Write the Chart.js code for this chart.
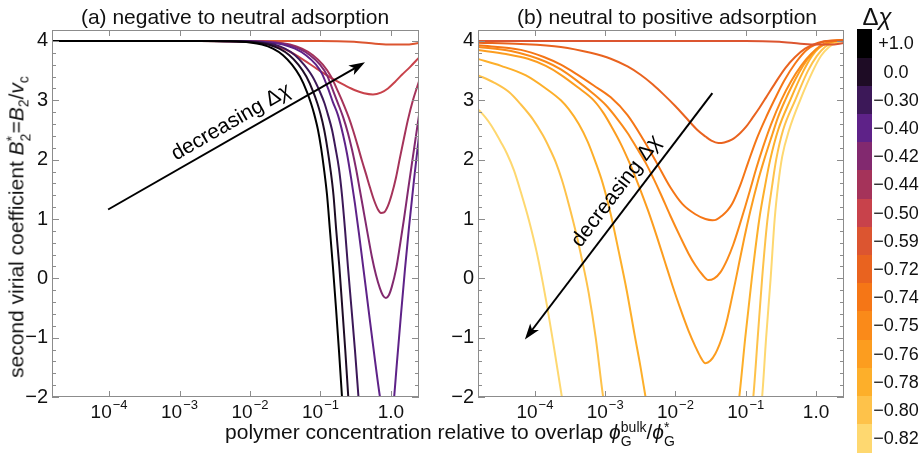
<!DOCTYPE html>
<html>
<head>
<meta charset="utf-8">
<script src="https://cdn.jsdelivr.net/npm/chart.js@4"></script>
<style>
  body { margin: 0; background: #fff; font-family: "Liberation Sans", Arial, sans-serif; color: #111; }
  #wrap { position: relative; width: 919px; height: 455px; overflow: hidden; }
  .panel { position: absolute; top: 0; width: 430px; height: 455px; }
  .t { position: absolute; white-space: nowrap; font-size: 21px; line-height: 24px; transform: translate(-50%, -50%); }
  .st { display: inline-flex; flex-direction: column; font-size: 14px; line-height: 14px; vertical-align: 7px; font-style: normal; }
  .cell { position: absolute; left: 857px; width: 15px; }
  .lab { position: absolute; font-size: 18px; line-height: 20px; transform: translate(-50%, -50%); white-space: nowrap; }
</style>
</head>
<body>
<div id="wrap">
  <div class="panel" style="left:0"><canvas id="chartA" width="430" height="455"></canvas></div>
  <div class="panel" style="left:425px"><canvas id="chartB" width="430" height="455"></canvas></div>

  <div class="t" style="left:235px;top:17px">(a) negative to neutral adsorption</div>
  <div class="t" style="left:667px;top:17px">(b) neutral to positive adsorption</div>
  <div class="t" style="left:450px;top:434px">polymer concentration relative to overlap <i>ϕ</i><span class="st"><span>bulk</span><span>G</span></span>/<i>ϕ</i><span class="st"><span>*</span><span>G</span></span></div>
  <div class="t" style="left:20px;top:227px;transform:translate(-50%,-50%) rotate(-90deg)">second virial coefficient <i>B</i><span class="st"><span>*</span><span>2</span></span>=<i>B</i><sub style="font-size:14px">2</sub>/<i>v</i><sub style="font-size:14px">c</sub></div>
  <div class="t" style="left:877px;top:17px;font-size:24px">Δ<i>χ</i></div>
</div>

<script>
// axis ticks
const xTicks = [1e-4, 1e-3, 1e-2, 1e-1, 1];
const xTickBase = ['10', '10', '10', '10', '1.0'];
const xTickExp = ['−4', '−3', '−2', '−1', ''];
const yTicks = [-2, -1, 0, 1, 2, 3, 4];

// colour bar
const chiLabels = ['+1.0', '0.0', '−0.30', '−0.40', '−0.42', '−0.44', '−0.50', '−0.59',
                   '−0.72', '−0.74', '−0.75', '−0.76', '−0.78', '−0.80', '−0.82'];
const chiColors = ['#000000', '#1e0c25', '#3c1858', '#5e2288', '#82296f', '#a5335a', '#c8424b', '#dc5530',
                   '#e9631f', '#f57616', '#fa8a19', '#fc9d1f', '#fdaf2a', '#fec24a', '#fed870'];

// curves [phi/phi*, B2*]
const chiP100 = [[1.5e-5, 4], [1.95e-3, 4.0], [5.2e-3, 3.995], [0.0100, 3.975], [0.0148, 3.94], [0.0212, 3.87], [0.0294, 3.76], [0.0394, 3.6], [0.0512, 3.4], [0.0644, 3.14], [0.0733, 2.95], [0.0809, 2.78], [0.0922, 2.5], [0.102, 2.2], [0.112, 1.85], [0.124, 1.4], [0.136, 0.82], [0.150, 0.2], [0.166, -0.5], [0.183, -1.22], [0.202, -2.0], [0.223, -2.8]];
const chi000 = [[1.5e-5, 4], [2.40e-3, 4.0], [6.40e-3, 3.995], [0.0123, 3.975], [0.0182, 3.94], [0.0261, 3.87], [0.0362, 3.76], [0.0485, 3.6], [0.0630, 3.4], [0.0792, 3.14], [0.0902, 2.95], [0.0995, 2.78], [0.113, 2.5], [0.125, 2.2], [0.138, 1.85], [0.153, 1.4], [0.167, 0.82], [0.185, 0.2], [0.204, -0.5], [0.225, -1.22], [0.248, -2.0], [0.274, -2.8]];
const chiM030 = [[1.5e-5, 4], [2.89e-3, 4.0], [7.70e-3, 3.995], [0.0148, 3.975], [0.0219, 3.94], [0.0313, 3.87], [0.0435, 3.76], [0.0583, 3.6], [0.0770, 3.4], [0.0984, 3.14], [0.114, 2.95], [0.126, 2.78], [0.146, 2.5], [0.163, 2.2], [0.183, 1.85], [0.202, 1.4], [0.223, 0.82], [0.245, 0.2], [0.275, -0.5], [0.309, -1.22], [0.346, -2.0], [0.388, -2.8]];
const chiM040 = [[1.5e-5, 4], [2.89e-3, 4.0], [9.37e-3, 3.995], [0.0192, 3.975], [0.0294, 3.94], [0.0435, 3.87], [0.0622, 3.76], [0.0863, 3.6], [0.105, 3.45], [0.128, 3.2], [0.150, 2.97], [0.177, 2.75], [0.209, 2.42], [0.238, 2.1], [0.271, 1.7], [0.309, 1.25], [0.352, 0.75], [0.401, 0.22], [0.472, -0.45], [0.574, -1.25], [0.698, -2.0], [0.822, -2.5], [0.937, -2.6], [1.07, -2.2], [1.22, -1.4], [1.39, -0.6], [1.58, 0.15], [1.80, 0.85], [2.12, 1.65], [2.5, 2.4]];
const chiM042 = [[1.5e-5, 4], [3.19e-3, 4.0], [0.0107, 3.995], [0.0219, 3.975], [0.0335, 3.94], [0.0495, 3.87], [0.0710, 3.76], [0.0984, 3.6], [0.124, 3.42], [0.150, 3.17], [0.177, 2.95], [0.209, 2.72], [0.245, 2.45], [0.280, 2.17], [0.319, 1.85], [0.363, 1.48], [0.414, 1.1], [0.472, 0.72], [0.537, 0.36], [0.612, 0.06], [0.698, -0.17], [0.770, -0.29], [0.849, -0.33], [0.937, -0.28], [1.03, -0.14], [1.18, 0.15], [1.34, 0.55], [1.53, 1.0], [1.74, 1.47], [2.05, 2.05], [2.5, 2.75]];
const chiM044 = [[1.5e-5, 4], [3.52e-3, 4.0], [0.0118, 3.995], [0.0242, 3.975], [0.0369, 3.94], [0.0547, 3.87], [0.0783, 3.76], [0.108, 3.6], [0.141, 3.4], [0.177, 3.15], [0.215, 2.92], [0.254, 2.7], [0.289, 2.5], [0.340, 2.22], [0.388, 1.98], [0.442, 1.76], [0.504, 1.53], [0.574, 1.32], [0.654, 1.16], [0.721, 1.10], [0.796, 1.11], [0.906, 1.22], [1.03, 1.42], [1.18, 1.7], [1.34, 2.03], [1.53, 2.36], [1.74, 2.67], [2.05, 3.0], [2.5, 3.32]];
const chiM050 = [[1.5e-5, 4], [1.95e-3, 4.0], [6.12e-3, 3.99], [0.0148, 3.96], [0.0313, 3.86], [0.0512, 3.72], [0.0892, 3.53], [0.150, 3.36], [0.223, 3.25], [0.309, 3.17], [0.414, 3.12], [0.556, 3.10], [0.721, 3.13], [0.906, 3.2], [1.14, 3.31], [1.43, 3.43], [1.86, 3.56], [2.5, 3.72]];
const chiM059 = [[1.5e-5, 4], [0.1, 4.0], [0.3, 3.985], [0.6, 3.955], [1.0, 3.94], [1.6, 3.94], [2.5, 3.965]];
const chiM072 = [[1.5e-5, 3.97], [6.32e-5, 3.95], [2.34e-4, 3.9], [6.22e-4, 3.8], [1.20e-3, 3.7], [2.08e-3, 3.57], [3.19e-3, 3.43], [4.72e-3, 3.27], [6.76e-3, 3.1], [0.0100, 2.9], [0.0148, 2.68], [0.0205, 2.5], [0.0267, 2.39], [0.0324, 2.32], [0.0407, 2.28], [0.0495, 2.29], [0.0644, 2.34], [0.0836, 2.45], [0.102, 2.56], [0.124, 2.7], [0.156, 2.87], [0.195, 3.05], [0.262, 3.29], [0.363, 3.54], [0.504, 3.73], [0.698, 3.87], [0.968, 3.95], [1.39, 4.0], [2.5, 4.01]];
const chiM074 = [[1.5e-5, 3.93], [6.32e-5, 3.85], [1.34e-4, 3.73], [2.34e-4, 3.6], [3.82e-4, 3.45], [6.87e-4, 3.25], [1.20e-3, 3.05], [2.08e-3, 2.75], [3.52e-3, 2.33], [5.38e-3, 1.95], [8.49e-3, 1.53], [0.0126, 1.25], [0.0192, 1.08], [0.0267, 1.0], [0.0335, 0.98], [0.0382, 0.99], [0.0464, 1.06], [0.0547, 1.14], [0.0644, 1.26], [0.0836, 1.57], [0.108, 1.95], [0.141, 2.33], [0.189, 2.68], [0.254, 3.0], [0.352, 3.33], [0.504, 3.62], [0.721, 3.84], [1.03, 3.95], [1.48, 4.0], [2.5, 4.015]];
const chiM075 = [[1.5e-5, 3.90], [4.57e-5, 3.83], [1.43e-4, 3.65], [2.34e-4, 3.52], [4.07e-4, 3.32], [6.65e-4, 3.12], [1.02e-3, 2.92], [1.50e-3, 2.68], [2.08e-3, 2.45], [2.80e-3, 2.2], [3.75e-3, 1.95], [4.88e-3, 1.68], [6.12e-3, 1.43], [8.49e-3, 1.05], [0.0118, 0.69], [0.0153, 0.42], [0.0192, 0.22], [0.0242, 0.06], [0.0294, -0.03], [0.0357, 0.0], [0.0435, 0.1], [0.0547, 0.32], [0.0665, 0.57], [0.0809, 0.88], [0.0984, 1.21], [0.116, 1.5], [0.141, 1.85], [0.177, 2.22], [0.230, 2.6], [0.319, 3.0], [0.442, 3.32], [0.612, 3.58], [0.849, 3.78], [1.18, 3.92], [1.69, 3.99], [2.5, 4.02]];
const chiM076 = [[1.5e-5, 3.85], [3.88e-5, 3.78], [7.96e-5, 3.7], [1.43e-4, 3.58], [2.34e-4, 3.43], [4.07e-4, 3.22], [6.87e-4, 3.0], [9.53e-4, 2.78], [1.28e-3, 2.52], [1.66e-3, 2.27], [2.08e-3, 2.02], [2.62e-3, 1.74], [3.19e-3, 1.48], [4.14e-3, 1.12], [5.38e-3, 0.72], [6.98e-3, 0.3], [9.06e-3, -0.12], [0.0118, -0.52], [0.0153, -0.88], [0.0192, -1.15], [0.0226, -1.32], [0.0267, -1.43], [0.0313, -1.39], [0.0369, -1.27], [0.0421, -1.12], [0.0480, -0.93], [0.0547, -0.68], [0.0622, -0.38], [0.0710, -0.06], [0.0809, 0.27], [0.0953, 0.68], [0.116, 1.13], [0.146, 1.6], [0.183, 2.0], [0.238, 2.42], [0.289, 2.72], [0.363, 3.0], [0.457, 3.25], [0.574, 3.47], [0.745, 3.68], [0.968, 3.84], [1.22, 3.93], [1.58, 3.98], [2.5, 4.02]];
const chiM078 = [[1.5e-5, 3.70], [3.30e-5, 3.58], [7.45e-5, 3.42], [1.43e-4, 3.2], [2.34e-4, 3.0], [3.03e-4, 2.85], [4.21e-4, 2.6], [5.65e-4, 2.3], [7.33e-4, 1.95], [9.23e-4, 1.6], [1.20e-3, 1.08], [1.56e-3, 0.45], [2.02e-3, -0.2], [2.62e-3, -0.95], [3.19e-3, -1.5], [3.75e-3, -2.0], [4.72e-3, -2.7], [6.12e-3, -3.5], [0.0226, -8], [0.0512, -3.8], [0.0644, -2.9], [0.0809, -2.0], [0.0984, -1.0], [0.122, 0.0], [0.156, 1.0], [0.189, 1.57], [0.223, 2.0], [0.289, 2.5], [0.428, 3.0], [0.665, 3.5], [0.878, 3.75], [1.10, 3.88], [1.39, 3.96], [1.74, 4.0], [2.5, 4.02]];
const chiM080 = [[1.5e-5, 3.43], [2.62e-5, 3.3], [4.28e-5, 3.14], [6.32e-5, 2.93], [9.38e-5, 2.68], [1.30e-4, 2.41], [1.63e-4, 2.18], [1.99e-4, 1.95], [2.42e-4, 1.66], [3.03e-4, 1.25], [3.82e-4, 0.78], [4.80e-4, 0.25], [5.83e-4, -0.25], [7.33e-4, -1.0], [9.23e-4, -1.95], [1.12e-3, -2.6], [1.41e-3, -3.3], [0.0118, -10], [0.0836, -3.6], [0.105, -2.8], [0.128, -2.0], [0.148, -1.0], [0.171, 0.0], [0.202, 0.95], [0.238, 1.57], [0.271, 2.0], [0.340, 2.5], [0.504, 3.0], [0.770, 3.5], [1.03, 3.75], [1.34, 3.9], [1.74, 3.97], [2.19, 4.0], [2.5, 4.02]];
const chiM082 = [[1.5e-5, 2.87], [1.95e-5, 2.72], [2.38e-5, 2.58], [2.80e-5, 2.44], [3.30e-5, 2.29], [4.01e-5, 2.1], [5.04e-5, 1.82], [6.32e-5, 1.45], [8.22e-5, 0.98], [1.07e-4, 0.42], [1.43e-4, -0.35], [1.86e-4, -1.15], [2.42e-4, -2.0], [3.03e-4, -2.75], [3.82e-4, -3.5], [6.12e-3, -14], [0.116, -3.8], [0.141, -2.9], [0.171, -2.0], [0.195, -1.0], [0.226, 0.0], [0.258, 1.0], [0.289, 1.57], [0.330, 2.05], [0.414, 2.5], [0.593, 3.0], [0.906, 3.5], [1.18, 3.75], [1.53, 3.9], [1.92, 3.97], [2.34, 4.0], [2.5, 4.01]];

// "decreasing" arrows: [tail, head] in data units
const arrowA = [[9.7e-5, 1.16], [0.428, 3.64]];
const arrowB = [[0.0335, 3.12], [7.2e-5, -1.03]];

const panelA = [chiP100, chi000, chiM030, chiM040, chiM042, chiM044, chiM050, chiM059];
const panelB = [chiM059, chiM072, chiM074, chiM075, chiM076, chiM078, chiM080, chiM082];

const FONT = '"Liberation Sans", Arial, sans-serif';
Chart.defaults.font.family = FONT;

const decoPlugin = {
    id: 'deco',
    afterDatasetsDraw(chart, args, opts) {
        const { ctx, chartArea: a } = chart;
        const xs = chart.scales.x, ys = chart.scales.y;
        ctx.save();

        // frame with inward ticks
        ctx.strokeStyle = '#8c8c8c';
        ctx.lineWidth = 1;
        ctx.strokeRect(a.left + 0.5, a.top + 0.5, a.right - a.left - 1, a.bottom - a.top - 1);
        ctx.beginPath();
        for (let i = 0; i <= 31; i++) {
            const v = -2 + i * 0.2;
            if (v > ys.max) break;
            const py = Math.round(ys.getPixelForValue(v)) + 0.5;
            const len = i % 5 === 0 ? 7 : 4;
            ctx.moveTo(a.left, py); ctx.lineTo(a.left + len, py);
            ctx.moveTo(a.right, py); ctx.lineTo(a.right - len, py);
        }
        xTicks.forEach(v => {
            const px = Math.round(xs.getPixelForValue(v)) + 0.5;
            ctx.moveTo(px, a.bottom); ctx.lineTo(px, a.bottom - 6);
            ctx.moveTo(px, a.top); ctx.lineTo(px, a.top + 6);
        });
        ctx.stroke();

        // x tick labels with exponents
        ctx.fillStyle = '#111';
        ctx.textAlign = 'left';
        ctx.textBaseline = 'alphabetic';
        xTicks.forEach((v, i) => {
            const px = xs.getPixelForValue(v);
            ctx.font = '19px ' + FONT;
            const wb = ctx.measureText(xTickBase[i]).width;
            ctx.font = '13px ' + FONT;
            const we = xTickExp[i] ? ctx.measureText(xTickExp[i]).width + 1 : 0;
            const x0 = px - (wb + we) / 2;
            ctx.font = '19px ' + FONT;
            ctx.fillText(xTickBase[i], x0, a.bottom + 21);
            if (xTickExp[i]) {
                ctx.font = '13px ' + FONT;
                ctx.fillText(xTickExp[i], x0 + wb + 1, a.bottom + 12);
            }
        });

        // arrow
        const arr = opts.arrow;
        const x0 = xs.getPixelForValue(arr[0][0]), y0 = ys.getPixelForValue(arr[0][1]);
        const x1 = xs.getPixelForValue(arr[1][0]), y1 = ys.getPixelForValue(arr[1][1]);
        const len = Math.hypot(x1 - x0, y1 - y0);
        const ux = (x1 - x0) / len, uy = (y1 - y0) / len;
        ctx.strokeStyle = '#000';
        ctx.fillStyle = '#000';
        ctx.lineWidth = 2;
        ctx.beginPath();
        ctx.moveTo(x0, y0);
        ctx.lineTo(x1 - 10 * ux, y1 - 10 * uy);
        ctx.stroke();
        ctx.beginPath();
        ctx.moveTo(x1, y1);
        ctx.lineTo(x1 - 16 * ux - 5.5 * uy, y1 - 16 * uy + 5.5 * ux);
        ctx.lineTo(x1 - 12 * ux, y1 - 12 * uy);
        ctx.lineTo(x1 - 16 * ux + 5.5 * uy, y1 - 16 * uy - 5.5 * ux);
        ctx.closePath();
        ctx.fill();

        // label along the arrow
        const rx = ux >= 0 ? ux : -ux, ry = ux >= 0 ? uy : -uy;
        const cx = x0 + opts.t * (x1 - x0) + opts.off * ry;
        const cy = y0 + opts.t * (y1 - y0) - opts.off * rx;
        ctx.translate(cx, cy);
        ctx.rotate(Math.atan2(ry, rx));
        ctx.textBaseline = 'middle';
        ctx.font = '21px ' + FONT;
        const w1 = ctx.measureText('decreasing Δ').width;
        ctx.font = 'italic 21px ' + FONT;
        const w2 = ctx.measureText('χ').width;
        ctx.font = '21px ' + FONT;
        ctx.fillText('decreasing Δ', -(w1 + w2) / 2, 0);
        ctx.font = 'italic 21px ' + FONT;
        ctx.fillText('χ', -(w1 + w2) / 2 + w1, 0);

        ctx.restore();
    }
};

function makeChart(id, curves, colorOffset, yWidth, arrow, t, off) {
    return new Chart(document.getElementById(id), {
        type: 'line',
        data: {
            datasets: curves.map((pts, i) => ({
                label: chiLabels[i + colorOffset],
                data: pts.map(p => ({ x: p[0], y: p[1] })),
                borderColor: chiColors[i + colorOffset],
                borderWidth: 2,
                pointRadius: 0,
                cubicInterpolationMode: 'monotone',
                fill: false
            }))
        },
        options: {
            responsive: false,
            animation: false,
            devicePixelRatio: 1,
            layout: { padding: { top: 30, right: 11, left: 0, bottom: 0 } },
            plugins: {
                legend: { display: false },
                tooltip: { enabled: false },
                title: { display: false },
                deco: { arrow: arrow, t: t, off: off }
            },
            scales: {
                x: {
                    type: 'logarithmic',
                    min: 1.55e-5,
                    max: 2.5,
                    afterBuildTicks: s => { s.ticks = xTicks.map(v => ({ value: v })); },
                    afterFit: s => { s.height = 58; },
                    ticks: { display: false },
                    grid: { display: false, drawTicks: false },
                    border: { display: false }
                },
                y: {
                    min: -2,
                    max: 4.185,
                    afterBuildTicks: s => { s.ticks = yTicks.map(v => ({ value: v })); },
                    afterFit: s => { s.width = yWidth; },
                    ticks: {
                        padding: 4,
                        color: '#111',
                        font: { size: 20 },
                        callback: v => v < 0 ? '−' + Math.abs(v) : String(v)
                    },
                    grid: { display: false, drawTicks: false },
                    border: { display: false }
                }
            }
        },
        plugins: [decoPlugin]
    });
}

makeChart('chartA', panelA, 0, 52, arrowA, 0.507, 14.4);
makeChart('chartB', panelB, 7, 53, arrowB, 0.44, 16.8);

// colour bar legend
const wrap = document.getElementById('wrap');
chiLabels.forEach((lab, i) => {
    const top = 29.3 + i * 28.2;
    const cell = document.createElement('div');
    cell.className = 'cell';
    cell.style.top = top + 'px';
    cell.style.height = '28.6px';
    cell.style.background = chiColors[i];
    wrap.appendChild(cell);
    const t = document.createElement('div');
    t.className = 'lab';
    t.style.left = '896px';
    t.style.top = (top + 14.1) + 'px';
    t.textContent = lab;
    wrap.appendChild(t);
});
</script>
</body>
</html>
